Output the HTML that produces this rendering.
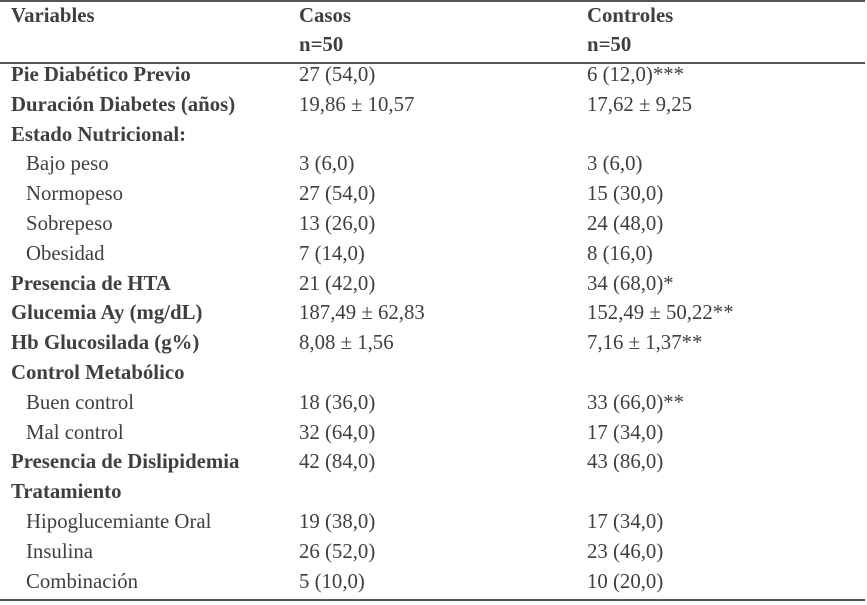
<!DOCTYPE html>
<html><head><meta charset="utf-8"><style>
body{margin:0;width:867px;height:605px;background:#fff;position:relative;overflow:hidden;font-family:"Liberation Serif",serif;font-size:20.8px;color:#3f3f3f}
.l{position:absolute;left:0;width:865px;height:2px;background:#555}
.r{position:absolute;left:0;width:865px;height:20px;line-height:20px;white-space:nowrap}
.r span{position:absolute;top:0}
.a{left:11px}.i{left:26px}.b{left:299px}.c{left:587px}
.bold{font-weight:bold}
</style></head><body>
<div class="l" style="top:0"></div>
<div class="l" style="top:62px"></div>
<div class="l" style="top:599px"></div>
<div class="r bold" style="top:6px"><span class="a">Variables</span><span class="b">Casos</span><span class="c">Controles</span></div>
<div class="r bold" style="top:35px"><span class="b">n=50</span><span class="c">n=50</span></div>
<div id="rows"></div>
<script>
const rows=[
["Pie Diabético Previo","27 (54,0)","6 (12,0)***",1],
["Duración Diabetes (años)","19,86 ± 10,57","17,62 ± 9,25",1],
["Estado Nutricional:","","",1],
["Bajo peso","3 (6,0)","3 (6,0)",0],
["Normopeso","27 (54,0)","15 (30,0)",0],
["Sobrepeso","13 (26,0)","24 (48,0)",0],
["Obesidad","7 (14,0)","8 (16,0)",0],
["Presencia de HTA","21 (42,0)","34 (68,0)*",1],
["Glucemia Ay (mg/dL)","187,49 ± 62,83","152,49 ± 50,22**",1],
["Hb Glucosilada (g%)","8,08 ± 1,56","7,16 ± 1,37**",1],
["Control Metabólico","","",1],
["Buen control","18 (36,0)","33 (66,0)**",0],
["Mal control","32 (64,0)","17 (34,0)",0],
["Presencia de Dislipidemia","42 (84,0)","43 (86,0)",1],
["Tratamiento","","",1],
["Hipoglucemiante Oral","19 (38,0)","17 (34,0)",0],
["Insulina","26 (52,0)","23 (46,0)",0],
["Combinación","5 (10,0)","10 (20,0)",0]];
const host=document.getElementById('rows');
rows.forEach((r,k)=>{
const d=document.createElement('div');
d.className='r';
d.style.top=(65+k*29.8)+'px';


d.innerHTML='<span class="'+(r[3]?'a bold':'i')+'">'+r[0]+'</span><span class="b">'+r[1]+'</span><span class="c">'+r[2]+'</span>';
host.appendChild(d);
});
</script>
</body></html>
